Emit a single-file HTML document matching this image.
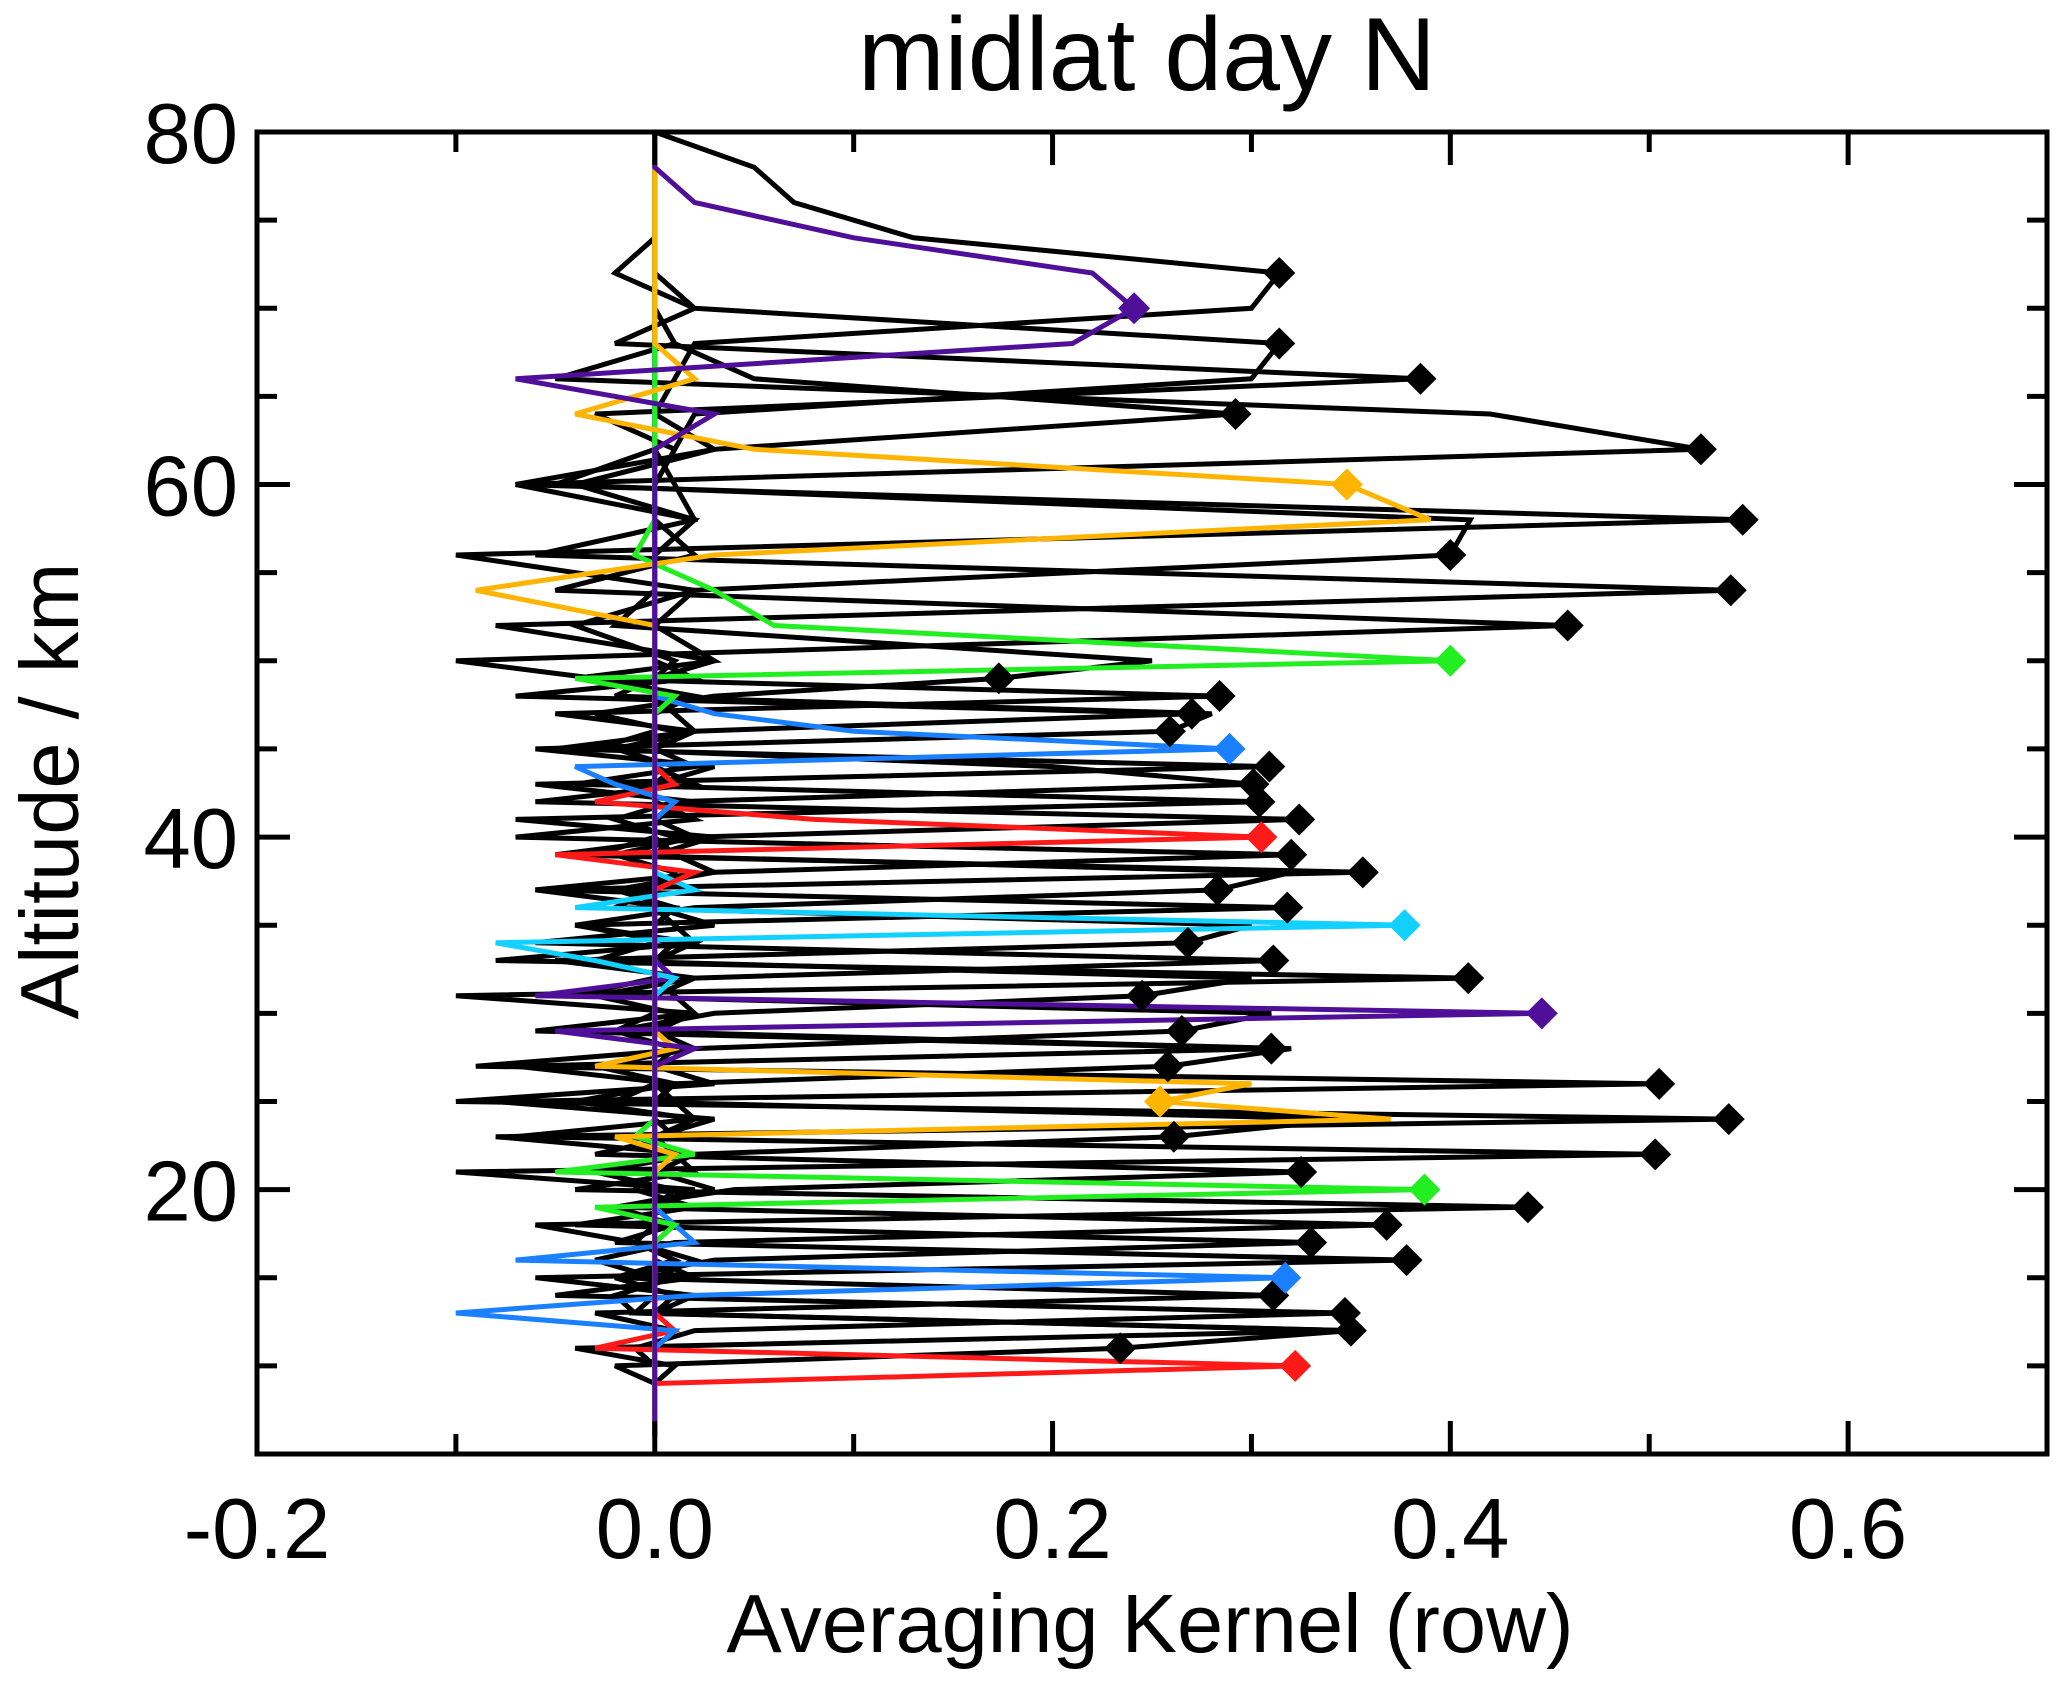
<!DOCTYPE html>
<html><head><meta charset="utf-8"><style>
html,body{margin:0;padding:0;background:#fff;}
svg{display:block;font-family:"Liberation Sans",Arial,sans-serif;}
</style></head><body>
<svg id="chart" width="2067" height="1683" viewBox="0 0 2067 1683">
<rect width="2067" height="1683" fill="#fff"/>
<text x="1147" y="90" font-size="104" text-anchor="middle">midlat day N</text>
<g id="plot"></g>
<g id="axes"></g>
<text x="1150" y="1652" font-size="83" text-anchor="middle">Averaging Kernel (row)</text>
<text transform="translate(78,791) rotate(-90)" font-size="83" text-anchor="middle">Altitude / km</text>
</svg>
<script>
const levels=[6,7,8,9,10,11,12,13,14,15,16,17,18,19,20,21,22,23,24,25,26,27,28,29,30,31,32,33,34,35,36,37,38,39,40,41,42,43,44,45,46,47,48,49,50,52,54,56,58,60,62,64,66,68,70,72,74,76,78,80];
const rowAlts=[10,11,12,13,14,15,16,17,18,19,20,21,22,23,24,25,26,27,28,29,30,31,32,33,34,35,36,37,38,39,40,41,42,43,44,45,46,47,48,49,50,52,54,56,58,60,62,64,66,68,70,72];
const rowColors=['red','k','k','k','k','blue','k','k','k','k','green','k','k','k','k','orange','k','k','k','k','purple','k','k','k','k','cyan','k','k','k','k','red','k','k','k','k','blue','k','k','k','k','green','k','k','k','k','orange','k','k','k','k','purple','k'];
const rowShapes=[
[0,0,0,0.322,-0.03,0.01,0],
[0,0,-0.02,0.234,0.35,-0.01,0],
[0,0.01,-0.04,0.35,-0.01,-0.02,0.01],
[0,-0.01,0.02,0.347,-0.05,0.02,0],
[0,0.01,-0.03,0.311,-0.02,0.01,-0.01],
[0.01,-0.1,0.02,0.317,-0.07,0.02,0.01],
[0,0.02,-0.06,0.378,-0.02,0.01,0],
[0.01,-0.02,0.03,0.33,-0.04,0.02,-0.01],
[0,-0.03,0.01,0.368,-0.02,0.03,0],
[0.02,-0.01,-0.06,0.439,-0.04,0.02,0.01],
[0,0.01,-0.03,0.387,-0.05,0.02,-0.01],
[0.01,-0.02,0.04,0.325,-0.03,0.01,0],
[0,0.02,-0.1,0.503,-0.07,0.02,0.01],
[0.01,-0.03,0.02,0.261,0.35,-0.02,0],
[0,0.02,-0.08,0.54,-0.1,0.03,0],
[0.01,-0.02,0.37,0.254,0.3,-0.03,0.01],
[0,0.03,-0.08,0.505,-0.09,0.02,0],
[0.02,-0.04,0.01,0.258,0.32,-0.02,0],
[0,0.01,-0.07,0.31,-0.06,0.02,0.01],
[0.01,-0.03,0.02,0.265,0.31,-0.04,0],
[0,0.02,-0.05,0.446,-0.06,0.01,0],
[0.01,-0.02,0.03,0.245,0.3,-0.03,0],
[0,0.02,-0.1,0.409,-0.08,0.02,0.01],
[0.01,-0.03,0.02,0.311,-0.06,0.03,0],
[0,0.02,-0.05,0.268,0.3,-0.02,0],
[0.01,-0.03,-0.08,0.377,-0.04,0.02,0],
[0,0.01,-0.04,0.318,-0.06,0.03,0.01],
[0.02,-0.04,0.02,0.283,0.32,-0.03,0],
[0,0.01,-0.06,0.356,-0.05,0.02,0],
[0.01,-0.02,0.03,0.32,-0.07,0.02,0],
[0,0.02,-0.05,0.305,0.08,-0.03,0.01],
[0.01,-0.02,0.02,0.324,-0.06,0.02,0],
[0,0.03,-0.07,0.304,-0.04,0.02,0],
[0.01,-0.02,0.01,0.301,0.2,-0.03,0],
[0,0.02,-0.06,0.309,-0.05,0.02,0.01],
[0.01,-0.02,-0.04,0.289,0.1,0.03,0],
[0,0.03,-0.06,0.259,0.28,-0.02,0],
[0.01,-0.02,0.02,0.27,-0.07,0.02,0],
[0,0.02,-0.05,0.284,-0.04,0.03,0],
[0.01,-0.03,0.03,0.173,0.25,-0.02,0],
[0,0.01,-0.04,0.4,0.06,0.03,-0.01],
[0.02,-0.03,-0.1,0.459,-0.05,0.02,0],
[0,0.03,-0.08,0.541,-0.06,0.02,0.01],
[0.01,-0.04,0.02,0.4,0.41,-0.05,0],
[0,0.02,-0.1,0.547,-0.07,0.03,0],
[-0.09,0.03,0.39,0.348,0.05,-0.04,0.02],
[0,0.02,-0.07,0.526,0.42,-0.05,0.01],
[0.02,-0.04,0.03,0.292,0.05,0.01,0],
[0,0.01,-0.03,0.385,-0.02,0.02,0],
[0.01,0.02,0.3,0.314,0.02,-0.02,0],
[0.03,-0.07,0.21,0.241,0.22,0.1,0.02],
[0.01,0.02,0.3,0.314,0.13,0.07,0.05]
];
const NS='http://www.w3.org/2000/svg';
const X0=257,X1=2047,Y0=1454,Y1=132;
const xMin=-0.2,xMax=0.7,yMin=5,yMax=80;
function xs(v){return X0+(v-xMin)/(xMax-xMin)*(X1-X0);}
function ys(v){return Y0-(v-yMin)/(yMax-yMin)*(Y0-Y1);}
const colorMap={k:'#000',red:'#ff1a1a',blue:'#1a80ff',green:'#22ee22',orange:'#ffb400',purple:'#4f0f99',cyan:'#12d0ff'};
const plot=document.getElementById('plot');
const axes=document.getElementById('axes');
function rowValues(r){
  const idx=levels.indexOf(rowAlts[r]);
  return levels.map((l,i)=>{const o=i-idx;return (o>=-3&&o<=3)?rowShapes[r][o+3]:0;});
}
const order=[];
rowColors.forEach((c,i)=>{if(c==='k')order.push(i);});
rowColors.forEach((c,i)=>{if(c!=='k')order.push(i);});
order.forEach(r=>{
  const vals=rowValues(r);
  const pts=levels.map((l,i)=>xs(vals[i]).toFixed(1)+','+ys(l).toFixed(1)).join(' ');
  const pl=document.createElementNS(NS,'polyline');
  pl.setAttribute('points',pts);
  pl.setAttribute('fill','none');
  pl.setAttribute('stroke',colorMap[rowColors[r]]);
  pl.setAttribute('stroke-width','5');
  pl.setAttribute('stroke-linejoin','miter');
  
  
  plot.appendChild(pl);
});
order.forEach(r=>{
  const idx=levels.indexOf(rowAlts[r]);
  const cx=xs(rowShapes[r][3]),cy=ys(levels[idx]),s=16;
  const d=document.createElementNS(NS,'polygon');
  d.setAttribute('points',`${cx},${cy-s} ${cx+s},${cy} ${cx},${cy+s} ${cx-s},${cy}`);
  d.setAttribute('fill',colorMap[rowColors[r]]);
  
  
  plot.appendChild(d);
});
const frame=document.createElementNS(NS,'rect');
frame.setAttribute('x',X0);frame.setAttribute('y',Y1);
frame.setAttribute('width',X1-X0);frame.setAttribute('height',Y0-Y1);
frame.setAttribute('fill','none');frame.setAttribute('stroke','#000');frame.setAttribute('stroke-width','5');


axes.appendChild(frame);
function line(x1,y1,x2,y2,name){
  const l=document.createElementNS(NS,'line');
  l.setAttribute('x1',x1);l.setAttribute('y1',y1);l.setAttribute('x2',x2);l.setAttribute('y2',y2);
  l.setAttribute('stroke','#000');l.setAttribute('stroke-width','5');
  
  
  axes.appendChild(l);
}
const xTicks=[-0.2,0.0,0.2,0.4,0.6];
const xTickLabels=['-0.2','0.0','0.2','0.4','0.6'];
const xMinor=[-0.1,0.1,0.3,0.5,0.7];
const yTicks=[20,40,60,80];
const yTickLabels=['20','40','60','80'];
const yMinor=[10,15,25,30,35,45,50,55,65,70,75];
xTicks.forEach((v,i)=>{
  const x=xs(v);
  line(x,Y0,x,Y0-33,'x-major-tick');line(x,Y1,x,Y1+33,'x-major-tick-top');
  const t=document.createElementNS(NS,'text');
  t.setAttribute('x',x);t.setAttribute('y',1558);t.setAttribute('font-size','85');t.setAttribute('text-anchor','middle');
  t.textContent=xTickLabels[i];
  
  
  axes.appendChild(t);
});
xMinor.forEach(v=>{const x=xs(v);line(x,Y0,x,Y0-20,'x-minor-tick');line(x,Y1,x,Y1+20,'x-minor-tick-top');});
yTicks.forEach((v,i)=>{
  const y=ys(v);
  line(X0,y,X0+33,y,'y-major-tick');line(X1,y,X1-33,y,'y-major-tick-right');
  const t=document.createElementNS(NS,'text');
  t.setAttribute('x',238);t.setAttribute('y',y+31);t.setAttribute('font-size','85');t.setAttribute('text-anchor','end');
  t.textContent=yTickLabels[i];
  
  
  axes.appendChild(t);
});
yMinor.forEach(v=>{const y=ys(v);line(X0,y,X0+20,y,'y-minor-tick');line(X1,y,X1-20,y,'y-minor-tick-right');});
</script>
</body></html>
